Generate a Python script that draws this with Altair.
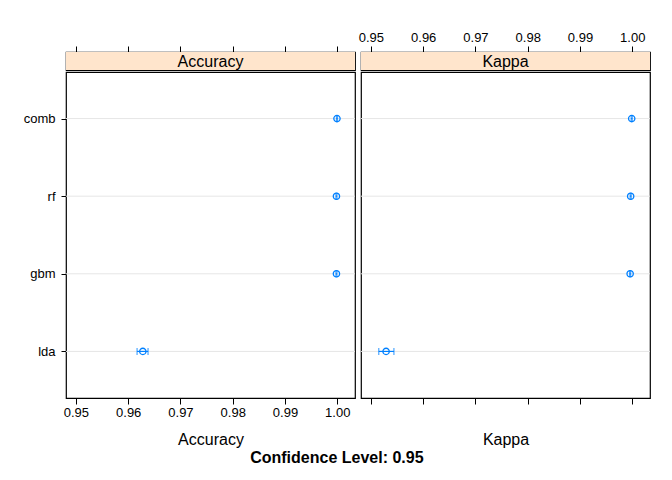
import pandas as pd
import altair as alt

models = ['comb', 'rf', 'gbm', 'lda']
acc_est = [0.99995, 0.99985, 0.99985, 0.9628]
acc_lo = [0.99985, 0.99975, 0.99975, 0.9617]
acc_hi = [1.00005, 0.99995, 0.99995, 0.9638]
kap_est = [0.9999, 0.9997, 0.9996, 0.9529]
kap_lo = [0.9998, 0.9996, 0.9995, 0.9515]
kap_hi = [1.0000, 0.9998, 0.9997, 0.9544]
ticks = [0.95, 0.96, 0.97, 0.98, 0.99, 1.00]

FONT = 'Liberation Sans'
BLUE = '#0080ff'
W, H = 289, 326
DOMAIN = [0.9481, 1.0034]


def panel(name, est, lo, hi, first):
    df = pd.DataFrame({'model': models, 'est': est, 'lo': lo, 'hi': hi})
    xscale = alt.Scale(domain=DOMAIN, nice=False, zero=False)
    yscale = alt.Scale(type='point', padding=0.6)
    if first:
        yaxis = alt.Axis(title=None, tickSize=5, tickColor='black', domain=False, grid=False,
                         labelFontSize=13, labelPadding=6)
    else:
        yaxis = None
    yenc = alt.Y('model:N', sort=models, scale=yscale, axis=yaxis)
    xaxis = alt.Axis(values=ticks, format='.2f', grid=False, domain=False, tickSize=6,
                     tickColor='black', labels=first, labelFontSize=13, labelColor='black',
                     title=name, titleFontSize=16, titleFontWeight='normal',
                     titlePadding=12 if first else 27)
    base = alt.Chart(df).encode(y=yenc)
    grid = base.mark_rule(color='#e6e6e6', strokeWidth=1).encode(
        x=alt.value(0), x2=alt.value(W))
    rule = base.mark_rule(color=BLUE, strokeWidth=1.2).encode(
        x=alt.X('lo:Q', scale=xscale, axis=xaxis), x2='hi:Q')
    lo_t = base.mark_tick(color=BLUE, orient='vertical', size=7, thickness=1.2).encode(
        x=alt.X('lo:Q', scale=xscale))
    hi_t = base.mark_tick(color=BLUE, orient='vertical', size=7, thickness=1.2).encode(
        x=alt.X('hi:Q', scale=xscale))
    pts = base.mark_point(shape='circle', filled=False, color=BLUE, size=40,
                          strokeWidth=1.3, opacity=1).encode(x=alt.X('est:Q', scale=xscale))
    body = alt.layer(grid, rule, lo_t, hi_t, pts).properties(width=W, height=H)

    sdf = pd.DataFrame({'label': [name], 'x0': [DOMAIN[0]], 'x1': [DOMAIN[1]]})
    top_axis = alt.Axis(orient='top', values=ticks, format='.2f', grid=False, domain=False,
                        tickSize=6, tickColor='black', labels=not first, labelFontSize=13,
                        labelColor='black', title=None)
    strip_rect = alt.Chart(sdf).mark_rect(color='#ffe5cc').encode(
        x=alt.X('x0:Q', scale=xscale, axis=top_axis), x2='x1:Q',
        y=alt.value(0), y2=alt.value(18))
    strip_text = alt.Chart(sdf).mark_text(fontSize=16, font=FONT, color='black').encode(
        text='label:N', x=alt.value(W / 2), y=alt.value(10))
    strip = alt.layer(strip_rect, strip_text).properties(width=W, height=18)
    return alt.vconcat(strip, body, spacing=0)


chart = alt.hconcat(
    panel('Accuracy', acc_est, acc_lo, acc_hi, True),
    panel('Kappa', kap_est, kap_lo, kap_hi, False),
    spacing=0
).properties(
    title=alt.TitleParams('Confidence Level: 0.95', orient='bottom', fontSize=16,
                          fontWeight='bold', font=FONT, offset=2, anchor='middle'),
    padding={'left': 14, 'top': 22, 'right': 5, 'bottom': 5}
).configure(
    font=FONT, background='white',
    view=alt.ViewConfig(stroke='black', strokeWidth=1.2),
    axis=alt.AxisConfig(labelFont=FONT, titleFont=FONT, labelColor='black', titleColor='black')
)

chart.save("out.html", embed_options={"renderer": "svg", "actions": False})
